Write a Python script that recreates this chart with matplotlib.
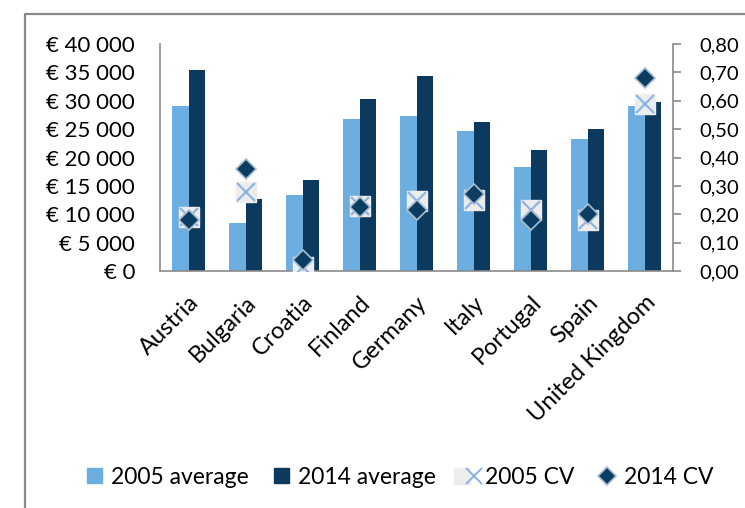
import matplotlib.pyplot as plt
from matplotlib.lines import Line2D
from matplotlib.patches import Patch
from matplotlib.legend_handler import HandlerTuple
from matplotlib.ticker import FuncFormatter, MultipleLocator
import numpy as np

plt.rcParams['font.family'] = ['Lato', 'DejaVu Sans']

countries = ['Austria', 'Bulgaria', 'Croatia', 'Finland', 'Germany',
             'Italy', 'Portugal', 'Spain', 'United Kingdom']
avg_2005 = [29000, 8500, 13400, 26800, 27300, 24700, 18400, 23300, 29000]
avg_2014 = [35500, 12700, 16000, 30300, 34400, 26300, 21400, 25000, 29800]
cv_2005 = [0.19, 0.28, 0.015, 0.23, 0.245, 0.25, 0.215, 0.18, 0.59]
cv_2014 = [0.18, 0.36, 0.04, 0.225, 0.215, 0.27, 0.18, 0.20, 0.68]

light = '#6caee0'
dark = '#0b3a5e'
grey = '#8a8a8a'

fig = plt.figure(figsize=(7.45, 5.08), dpi=100)
ax = fig.add_axes([160 / 745, 1 - 271 / 508, (673 - 160) / 745, (271 - 44) / 508])

x = np.arange(len(countries))
w = 0.29
ax.bar(x - w / 2, avg_2005, w, color=light, label='2005 average')
ax.bar(x + w / 2, avg_2014, w, color=dark, label='2014 average')
ax.set_xlim(-0.5, len(countries) - 0.5)
ax.set_ylim(0, 40000)
ax.yaxis.set_major_locator(MultipleLocator(5000))
ax.yaxis.set_major_formatter(FuncFormatter(
    lambda v, p: '€ ' + f'{int(v):,}'.replace(',', ' ')))
ax.tick_params(axis='y', length=0, pad=18, labelsize=16)
ax.set_xticks(x)
ax.set_xticklabels(countries, rotation=45, ha='right', va='top',
                   rotation_mode='anchor', fontsize=17)
ax.tick_params(axis='x', length=0, pad=15)
for s in ['top', 'right']:
    ax.spines[s].set_visible(False)
for s in ['left', 'bottom']:
    ax.spines[s].set_color(grey)
    ax.spines[s].set_linewidth(1.2)

# CV on the secondary axis
ax2 = ax.twinx()
ax2.set_ylim(0, 0.8)
ax2.yaxis.set_major_locator(MultipleLocator(0.1))
ax2.yaxis.set_major_formatter(FuncFormatter(lambda v, p: f'{v:.2f}'.replace('.', ',')))
ax2.tick_params(axis='y', length=6, width=1.2, color=grey, pad=13, labelsize=14.5)
for s in ['top', 'left', 'bottom']:
    ax2.spines[s].set_visible(False)
ax2.spines['right'].set_color(grey)
ax2.spines['right'].set_linewidth(1.2)

ax2.plot(x, cv_2005, ls='none', marker='s', ms=14, mfc='#ededed', mec='#ededed')
ax2.plot(x, cv_2005, ls='none', marker='x', ms=12.5, mew=1.6, color='#8db4e2')
ax2.plot(x, cv_2014, ls='none', marker='D', ms=10.5, mfc='#0b3d62', mec='#a8bdd0', mew=1.2)

h1 = Patch(color=light)
h2 = Patch(color=dark)
h3 = (Line2D([], [], ls='none', marker='s', ms=12, mfc='#ededed', mec='#ededed'),
      Line2D([], [], ls='none', marker='x', ms=11, mew=1.5, color='#8db4e2'))
h4 = Line2D([], [], ls='none', marker='D', ms=9, mfc='#0b3d62', mec='#a8bdd0', mew=1.2)
fig.legend([h1, h2, h3, h4], ['2005 average', '2014 average', '2005 CV', '2014 CV'],
           handler_map={tuple: HandlerTuple(ndivide=None)},
           loc='center', bbox_to_anchor=(400 / 745, 1 - 477 / 508), ncol=4,
           frameon=False, fontsize=16.5, handlelength=0.65, handletextpad=0.4,
           columnspacing=1.1, handleheight=0.65)

fx = 25 / 745
fy = 1 - 14 / 508
fig.add_artist(Line2D([fx, fx, 1], [0, fy, fy], color=grey, lw=1.6,
                      transform=fig.transFigure))

fig.savefig('out.png', dpi=100)
